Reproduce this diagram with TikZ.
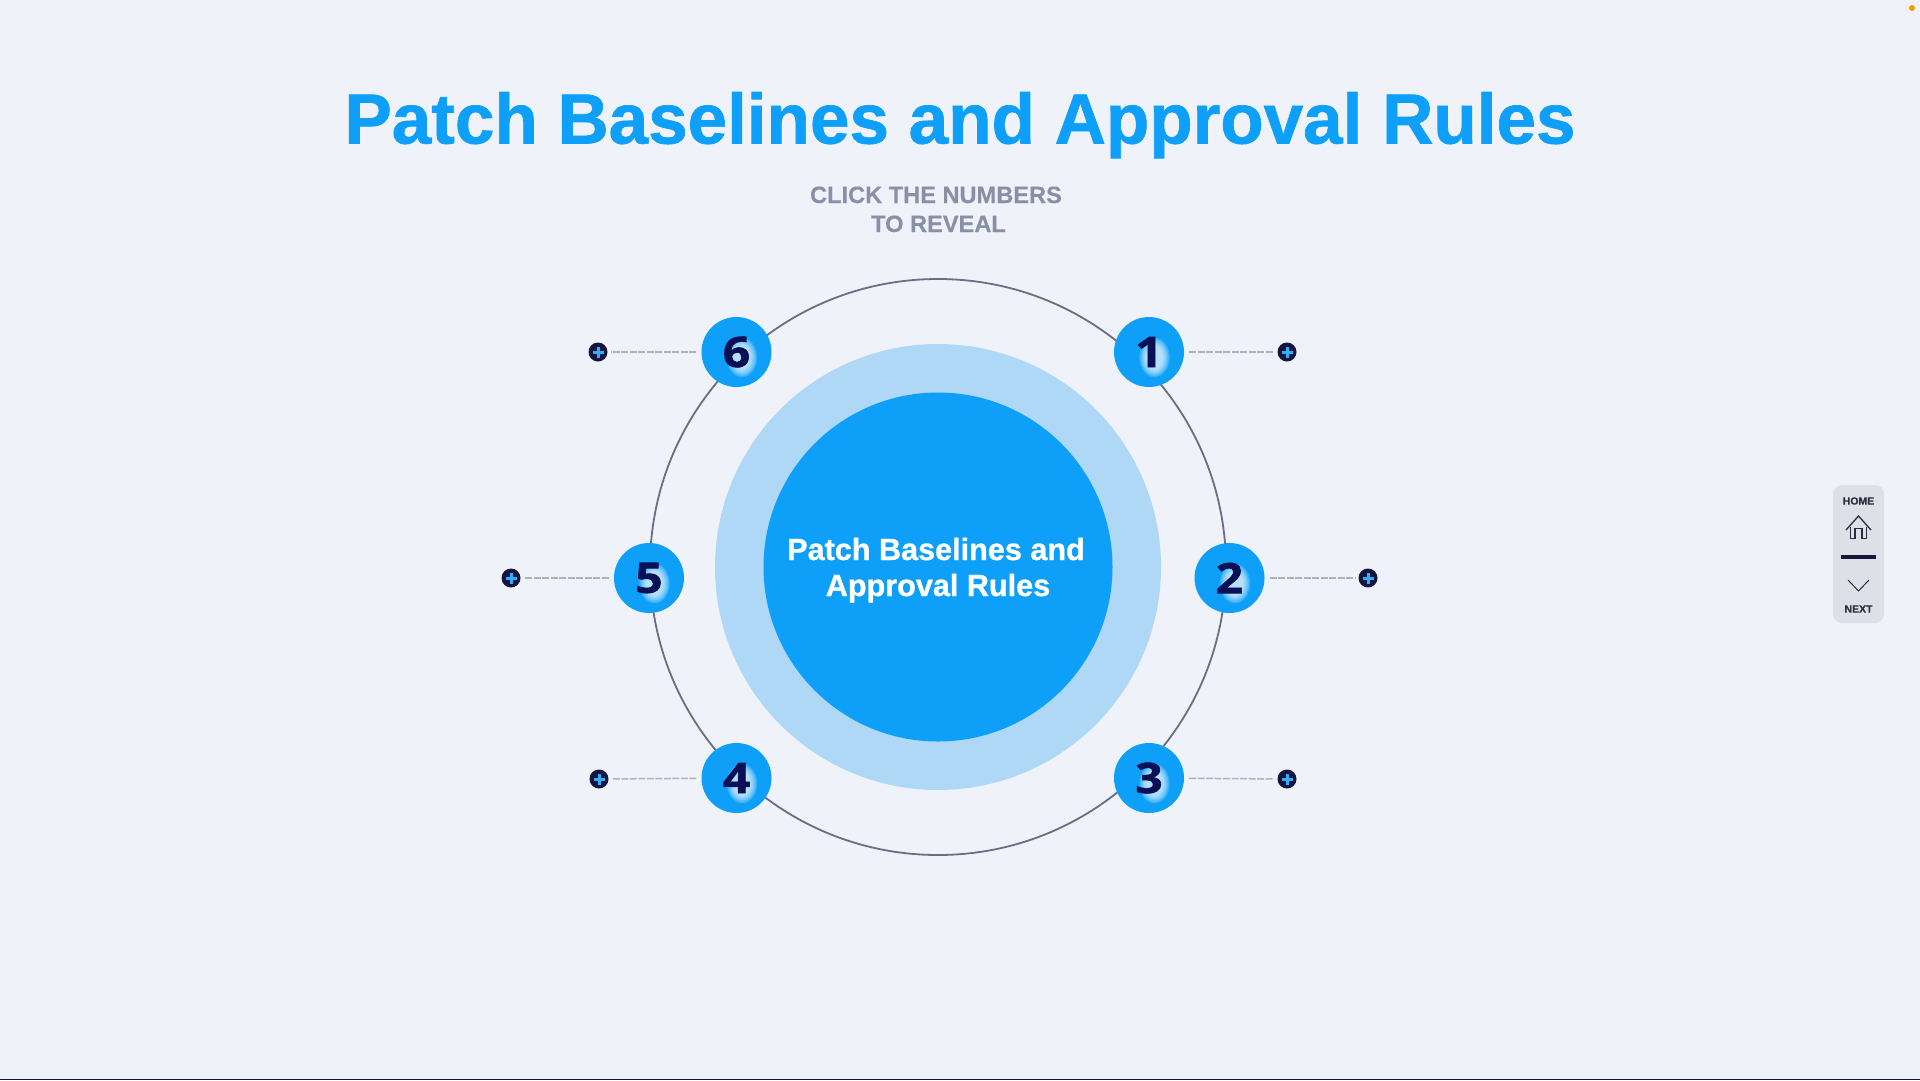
\documentclass[tikz,border=0pt]{standalone}
\usepackage{fontspec}
\setmainfont{Liberation Sans}
\newfontfamily\hvf[FakeBold=1.0]{Liberation Sans Bold}
\newfontfamily\hvs[FakeBold=0.3]{Liberation Sans Bold}
\newfontfamily\hvg[FakeBold=1.6,FakeStretch=1.14]{Open Sans Bold}
\newcommand{\fsz}[1]{\fontsize{#1}{#1}\selectfont}
\definecolor{bgc}{HTML}{EFF3F9}
\definecolor{bluec}{HTML}{0EA0F8}
\definecolor{lightc}{HTML}{AFD8F7}
\definecolor{navyc}{HTML}{0A1056}
\definecolor{darkc}{HTML}{15163F}
\definecolor{ringc}{HTML}{6B6D82}
\definecolor{subc}{HTML}{8A8FA8}
\definecolor{dashc}{HTML}{AEB1BF}
\definecolor{panelc}{HTML}{DDE0E6}
\definecolor{panelt}{HTML}{2B2D40}
\tikzset{
 numc/.style={circle,fill=bluec,minimum size=70pt,inner sep=0pt,text=navyc,
   font=\hvg\fsz{42},
   path picture={\foreach \r in {0,1,...,6}{
     \fill[white,fill opacity=0.16]
     ([xshift=5.5pt,yshift=-5.5pt]path picture bounding box.center) ellipse ({8pt+\r*1.2pt} and {12pt+\r*1.3pt});}}},
 plusc/.style={circle,fill=darkc,minimum size=19pt,inner sep=0pt,
   path picture={\draw[bluec!85!white,line width=3pt]
     ([xshift=-5.5pt]path picture bounding box.center)--([xshift=5.5pt]path picture bounding box.center)
     ([yshift=-5.5pt]path picture bounding box.center)--([yshift=5.5pt]path picture bounding box.center);}},
 leader/.style={dashc,line width=1.5pt,dash pattern=on 7pt off 1.5pt,shorten <=5pt,shorten >=3.5pt},
 navtext/.style={text=panelt,font=\hvs\fsz{10.5},inner sep=0pt},
 navline/.style={panelt,line width=1.3pt,line join=miter},
}
\begin{document}
\begin{tikzpicture}[x=1pt,y=-1pt]
\useasboundingbox (0,0) rectangle (1920,1080);
\fill[bgc] (0,0) rectangle (1920,1080);
\fill[darkc] (0,1078.5) rectangle (1920,1080);
\node[circle,fill=orange!80!yellow,minimum size=6pt,inner sep=0pt] (dot) at (1912,8) {};

\node[text=bluec,font=\hvf\fsz{71},inner sep=0pt,anchor=base] (title) at (960,143.5) {Patch Baselines and Approval Rules};
\node[text=subc,font=\hvs\fsz{23.6},inner sep=0pt,anchor=base] (sub1) at (936,203) {CLICK THE NUMBERS};
\node[text=subc,font=\hvs\fsz{23.6},inner sep=0pt,anchor=base] (sub2) at (938.5,232) {TO REVEAL};

\node[circle,draw=ringc,line width=1.8pt,minimum size=576pt,inner sep=0pt] (ring) at (938,567) {};
\node[circle,fill=lightc,minimum size=446pt,inner sep=0pt] (halo) at (938,567) {};
\node[circle,fill=bluec,minimum size=349pt,inner sep=0pt] (core) at (938,567) {};
\node[text=white,font=\hvf\fsz{30.6},inner sep=0pt,anchor=base] (c1) at (936,560) {Patch Baselines and};
\node[text=white,font=\hvf\fsz{30.6},inner sep=0pt,anchor=base] (c2) at (938,596) {Approval Rules};

\node[numc] (n1) at (1149,352) {1};
\node[numc] (n2) at (1229.5,578) {2};
\node[numc] (n3) at (1149,778) {3};
\node[numc] (n4) at (736.5,778) {4};
\node[numc] (n5) at (649,578) {5};
\node[numc] (n6) at (736.5,352) {6};

\node[plusc] (p1) at (1287,352) {};
\node[plusc] (p2) at (1368,578) {};
\node[plusc] (p3) at (1287,779) {};
\node[plusc] (p4) at (599,779) {};
\node[plusc] (p5) at (511,578) {};
\node[plusc] (p6) at (598,352) {};

\foreach \i in {1,...,6} \draw[leader] (n\i) -- (p\i);

\fill[panelc,rounded corners=9pt] (1833,485) rectangle (1884,623);
\node[navtext] (home) at (1858.5,501) {HOME};
\node[navtext] (next) at (1858.5,609) {NEXT};
\draw[navline] (1846,530) -- (1858.5,516) -- (1871,530);
\draw[navline] (1850.5,527) -- (1850.5,538.5) -- (1855,538.5) -- (1855,528.5) -- (1862,528.5) -- (1862,538.5) -- (1866.5,538.5) -- (1866.5,527);
\draw[darkc,line width=3.5pt] (1841,557) -- (1876,557);
\draw[panelt,line width=1pt] (1848,580) -- (1858.5,591) -- (1869,580);
\end{tikzpicture}
\end{document}
